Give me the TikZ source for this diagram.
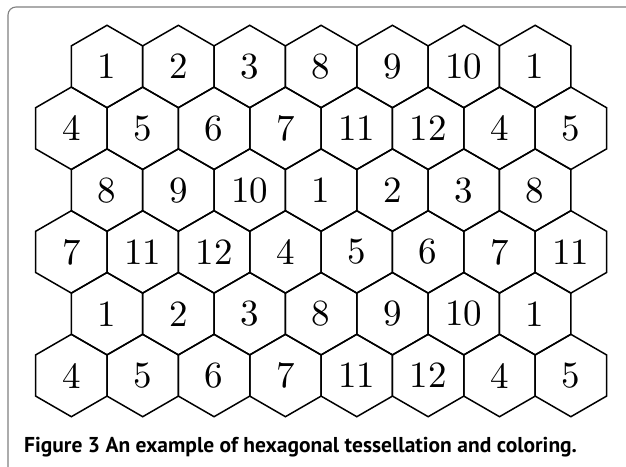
\documentclass[tikz,border=0pt]{standalone}
\usepackage{fontspec}
\setsansfont{PT Sans}
\newfontfamily\cellfont{lmroman10-regular}[Extension=.otf]
\usetikzlibrary{shapes.geometric}
\tikzset{hexcell/.style={draw, line width=1.5pt, regular polygon, regular polygon sides=6,
    shape border rotate=30, minimum size=82.4pt, inner sep=0pt, font=\cellfont\fontsize{37}{40}\selectfont},
  frame/.style={draw=black!50, line width=1.1pt, rounded corners=8pt}}

\begin{document}
\begin{tikzpicture}[x=1pt, y=-1pt]
  \useasboundingbox (0,0) rectangle (626,466);
  % page frame
  \draw[frame] (8,470) -- (8,7) -- (630,7);
  % hexagonal tessellation, one row at a time
  \foreach \r/\labels in {1/{1,2,3,8,9,10,1}, 2/{4,5,6,7,11,12,4,5}, 3/{8,9,10,1,2,3,8},
      4/{7,11,12,4,5,6,7,11}, 5/{1,2,3,8,9,10,1}, 6/{4,5,6,7,11,12,4,5}}{
    \foreach \lab [count=\c] in \labels {
      \pgfmathsetmacro\xx{(isodd(\r) ? 107 : 71.35) + (\c-1)*71.36}
      \pgfmathsetmacro\yy{66.5 + (\r-1)*61.8}
      \node[hexcell] (h\r-\c) at (\xx,\yy) {\lab};
    }
  }
  % caption
  \node[anchor=base west, inner sep=0pt, font=\sffamily\bfseries\fontsize{21.5}{24}\selectfont] (caption) at (24,452)
    {Figure 3 An example of hexagonal tessellation and coloring.};
\end{tikzpicture}
\end{document}
